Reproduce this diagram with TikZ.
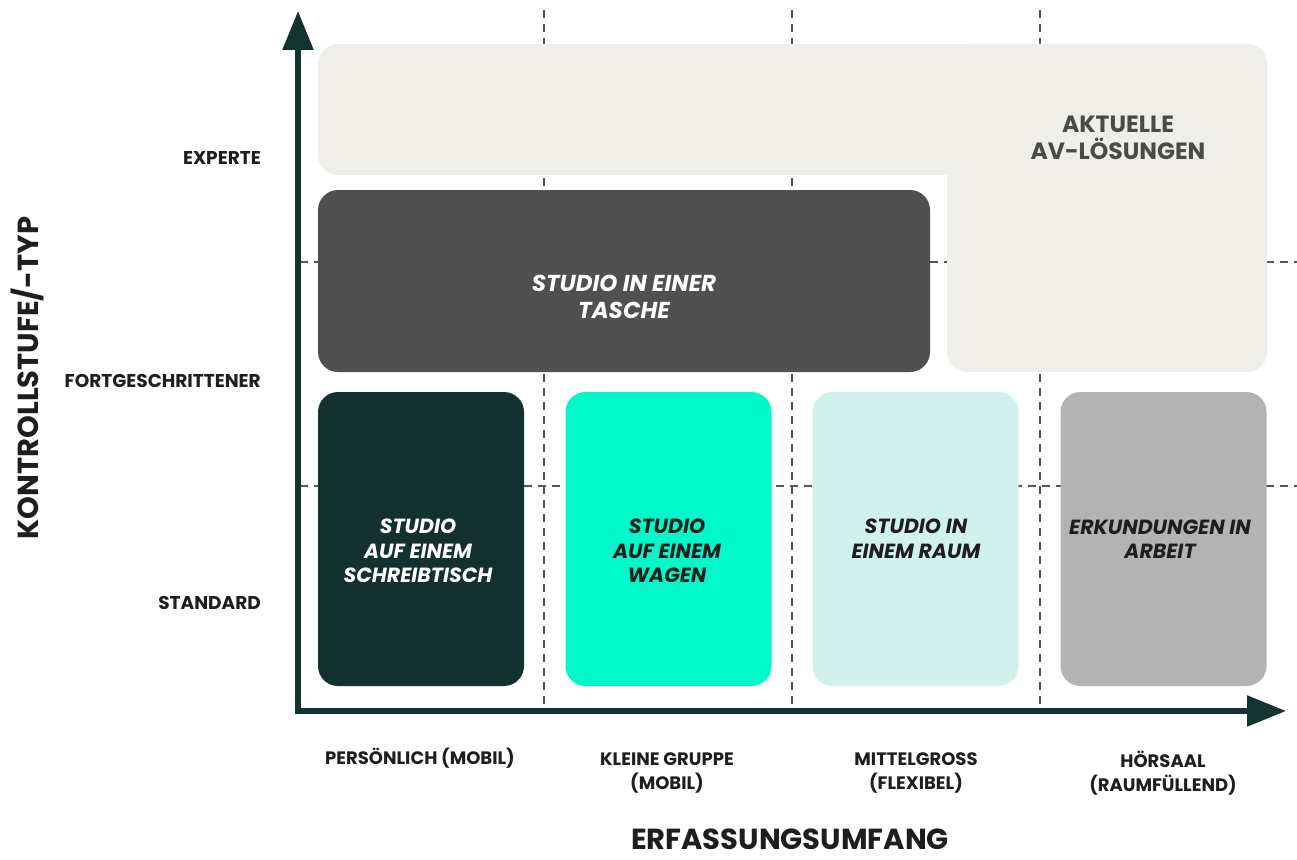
\documentclass[tikz,border=0pt]{standalone}
\usepackage{fontspec}
\setmainfont{Poppins}
\usepackage{xcolor}
\usetikzlibrary{arrows.meta,positioning}

\definecolor{axisgreen}{HTML}{12332F}
\definecolor{gridgray}{HTML}{555555}
\definecolor{avfill}{HTML}{F0EEE9}
\definecolor{avtext}{HTML}{4A4A4A}
\definecolor{bagfill}{HTML}{505050}
\definecolor{deskfill}{HTML}{12312F}
\definecolor{cartfill}{HTML}{00F9C8}
\definecolor{roomfill}{HTML}{D1F2EC}
\definecolor{hallfill}{HTML}{B3B3B3}
\definecolor{inktext}{HTML}{1E1E1E}

\begin{document}
\begin{tikzpicture}[x=1pt, y=-1pt,
  gridline/.style={gridgray, line width=1.4pt, dash pattern=on 8pt off 6pt},
  axisline/.style={axisgreen, line width=5.5pt, line join=miter,
    {Triangle[length=39pt,width=30pt]}-{Triangle[length=39pt,width=30pt]}},
  card/.style={rounded corners=20pt, inner sep=0pt, minimum width=206pt, minimum height=294pt},
  cardtext/.style={align=center, inner sep=0pt, font=\fontsize{20.5}{24.5}\selectfont\bfseries\itshape},
  levellabel/.style={anchor=east, inner sep=0pt, inktext, font=\fontsize{18.5}{22}\selectfont\bfseries},
  scopelabel/.style={align=center, inner sep=0pt, inktext, font=\fontsize{18}{24}\selectfont\bfseries},
  axistitle/.style={inner sep=0pt, inktext, font=\fontsize{29}{32}\selectfont\bfseries}]
  \useasboundingbox (0,0) rectangle (1297,859);

  % dashed grid
  \foreach \gx in {544,792,1040}
    \draw[gridline] (\gx,10) -- (\gx,708);
  \foreach \gy in {262,486}
    \draw[gridline] (300,\gy) -- (1297,\gy);

  % current AV solutions (L-shaped block)
  \fill[avfill, rounded corners=20pt] (318,44) rectangle (1267,175);
  \fill[avfill, rounded corners=20pt] (947,44) rectangle (1267,372);
  \node[align=center, inner sep=0pt, avtext, font=\fontsize{23.5}{27}\selectfont\bfseries]
    (avlabel) at (1118,138) {AKTUELLE\\AV-LÖSUNGEN};

  % studio in a bag
  \node[card, fill=bagfill, minimum width=612pt, minimum height=182pt] (bag) at (624,281) {};
  \node[cardtext, white, font=\fontsize{23}{27}\selectfont\bfseries\itshape]
    (baglabel) at ([yshift=-16pt]bag.center) {STUDIO IN EINER\\TASCHE};

  % the four studio cards
  \node[card, fill=deskfill] (desk) at (421,539) {};
  \node[cardtext, white] (desklabel) at (418,551) {STUDIO\\AUF EINEM\\SCHREIBTISCH};

  \node[card, fill=cartfill] (cart) at (668.5,539) {};
  \node[cardtext, inktext] (cartlabel) at (667,551) {STUDIO\\AUF EINEM\\WAGEN};

  \node[card, fill=roomfill] (room) at (915.5,539) {};
  \node[cardtext, inktext] (roomlabel) at (916,539) {STUDIO IN\\EINEM RAUM};

  \node[card, fill=hallfill] (hall) at (1163.5,539) {};
  \node[cardtext, inktext] (halllabel) at (1160,539) {ERKUNDUNGEN IN\\ARBEIT};

  % axes
  \coordinate (origin) at (298,711);
  \coordinate (ytip) at (298,11);
  \coordinate (xtip) at (1286,711);
  \draw[axisline] (ytip) -- (origin) -- (xtip);

  % levels on the vertical axis
  \node[levellabel] (expert) at (261,158) {EXPERTE};
  \node[levellabel] (advanced) at (261,381) {FORTGESCHRITTENER};
  \node[levellabel] (standard) at (261,603) {STANDARD};
  \node[axistitle, rotate=90] (ytitle) at (27,378) {KONTROLLSTUFE/-TYP};

  % scopes on the horizontal axis
  \node[scopelabel] (personal) at (420,758) {PERSÖNLICH (MOBIL)};
  \node[scopelabel] (smallgroup) at (667,773) {KLEINE GRUPPE\\(MOBIL)};
  \node[scopelabel] (midsize) at (916,773) {MITTELGROSS\\(FLEXIBEL)};
  \node[scopelabel] (lecture) at (1163,773) {HÖRSAAL\\(RAUMFÜLLEND)};
  \node[axistitle, anchor=base] (xtitle) at (790,849) {ERFASSUNGSUMFANG};
\end{tikzpicture}
\end{document}
